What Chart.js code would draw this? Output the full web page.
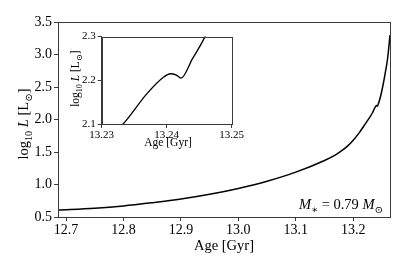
<!DOCTYPE html>
<html>
<head>
<meta charset="utf-8">
<script src="https://cdn.jsdelivr.net/npm/chart.js@4"></script>
<style>
  body { margin: 0; background: #fff; }
  #wrap { position: relative; width: 407px; height: 271px; }
  #main { position: absolute; left: 0; top: 0; }
  #inset { position: absolute; left: 55px; top: 28px; }
</style>
</head>
<body>
<div id="wrap">
  <canvas id="main" width="407" height="271"></canvas>
  <canvas id="inset" width="190" height="125"></canvas>
</div>
<script>
// luminosity track
const ages = [12.686, 12.75, 12.8, 12.85, 12.9, 12.95, 13.0, 13.05, 13.1, 13.15, 13.17, 13.18, 13.19, 13.2, 13.21, 13.22,
  13.2333, 13.237, 13.2395, 13.2406, 13.2415, 13.2422, 13.244, 13.2459, 13.25, 13.255, 13.26, 13.264];
const logL = [0.608, 0.635, 0.67, 0.72, 0.777, 0.85, 0.94, 1.05, 1.19, 1.37, 1.46, 1.52, 1.59, 1.68, 1.79, 1.92,
  2.10, 2.17, 2.207, 2.215, 2.212, 2.205, 2.25, 2.30, 2.45, 2.68, 2.95, 3.3];

const xTicks = [12.7, 12.8, 12.9, 13.0, 13.1, 13.2];
const yTicks = [0.5, 1.0, 1.5, 2.0, 2.5, 3.0, 3.5];
const insetXTicks = [13.23, 13.24, 13.25];
const insetYTicks = [2.1, 2.2, 2.3];

const serif = "'Liberation Serif', 'DejaVu Serif', serif";
const axisCol = '#3a3a3a';

const pts = ages.map((a, i) => ({x: a, y: logL[i]}));

// draw a string made of styled pieces, centred on (x, y)
function drawRich(ctx, parts, x, y, rot, size, align) {
  ctx.save();
  ctx.translate(x, y);
  ctx.rotate(rot);
  ctx.fillStyle = '#000';
  ctx.textBaseline = 'alphabetic';
  let total = 0;
  parts.forEach(p => {
    const s = size * (p.sub ? 0.7 : 1);
    ctx.font = (p.it ? 'italic ' : '') + s + 'px ' + serif;
    p.w = ctx.measureText(p.t).width;
    total += p.w;
  });
  let cx = align === 'right' ? -total : -total / 2;
  const base = size * 0.35;
  parts.forEach(p => {
    const s = size * (p.sub ? 0.7 : 1);
    ctx.font = (p.it ? 'italic ' : '') + s + 'px ' + serif;
    ctx.fillText(p.t, cx, base + (p.sub ? size * 0.25 : 0));
    cx += p.w;
  });
  ctx.restore();
}

const lumLabel = [{t: 'log'}, {t: '10', sub: true}, {t: ' '}, {t: 'L', it: true}, {t: ' [L'}, {t: '⊙', sub: true}, {t: ']'}];

function boxPlugin(extra) {
  return {
    id: 'box',
    beforeDraw(chart) {
      const {ctx, chartArea: a} = chart;
      ctx.save();
      ctx.fillStyle = '#fff';
      ctx.fillRect(a.left, a.top, a.right - a.left, a.bottom - a.top);
      ctx.restore();
    },
    afterDraw(chart) {
      const {ctx, chartArea: a} = chart;
      ctx.save();
      ctx.strokeStyle = axisCol;
      ctx.lineWidth = 1;
      ctx.strokeRect(Math.round(a.left) + 0.5, Math.round(a.top) + 0.5,
        Math.round(a.right - a.left), Math.round(a.bottom - a.top));
      ctx.restore();
      extra(chart);
    }
  };
}

function axisOpts(ticks, digits, size, width, height, isX) {
  const o = {
    type: 'linear',
    grid: {drawOnChartArea: false, drawTicks: true, tickLength: 4, color: axisCol},
    border: {display: true, color: axisCol},
    ticks: {
      color: '#000',
      font: {family: serif, size: size},
      padding: isX ? 1 : 2,
      maxRotation: 0,
      autoSkip: false,
      callback: v => v.toFixed(digits)
    },
    afterBuildTicks: s => { s.ticks = ticks.map(v => ({value: v})); }
  };
  if (isX) o.afterFit = s => { s.height = height; };
  else o.afterFit = s => { s.width = width; };
  return o;
}

new Chart(document.getElementById('main'), {
  type: 'line',
  data: {datasets: [{data: pts, borderColor: '#000', borderWidth: 1.5, pointRadius: 0,
    cubicInterpolationMode: 'monotone'}]},
  options: {
    responsive: false,
    animation: false,
    layout: {padding: {left: 0, top: 22, right: 17, bottom: 0}},
    plugins: {legend: {display: false}, tooltip: {enabled: false}},
    scales: {
      x: Object.assign(axisOpts(xTicks, 1, 14, 0, 54, true), {min: 12.686, max: 13.264}),
      y: Object.assign(axisOpts(yTicks, 1, 14, 58, 0, false), {min: 0.5, max: 3.5})
    }
  },
  plugins: [boxPlugin(chart => {
    const ctx = chart.ctx;
    drawRich(ctx, lumLabel, 23, 124, -Math.PI / 2, 14.5);
    drawRich(ctx, [{t: 'Age [Gyr]'}], 224, 245, 0, 14.5);
    drawRich(ctx, [{t: 'M', it: true}, {t: '∗', sub: true}, {t: ' = 0.79 '}, {t: 'M', it: true}, {t: '⊙', sub: true}],
      383, 204, 0, 14.5, 'right');
  })]
});

new Chart(document.getElementById('inset'), {
  type: 'line',
  data: {datasets: [{data: pts, borderColor: '#000', borderWidth: 1.3, pointRadius: 0,
    cubicInterpolationMode: 'monotone'}]},
  options: {
    responsive: false,
    animation: false,
    layout: {padding: {left: 0, top: 5.3, right: 7.3, bottom: 0}},
    plugins: {legend: {display: false}, tooltip: {enabled: false}},
    scales: {
      x: Object.assign(axisOpts(insetXTicks, 2, 11, 0, 29, true), {min: 13.23, max: 13.25}),
      y: Object.assign(axisOpts(insetYTicks, 1, 11, 46.7, 0, false), {min: 2.1, max: 2.3})
    }
  },
  plugins: [boxPlugin(chart => {
    const ctx = chart.ctx;
    drawRich(ctx, lumLabel, 20, 50.7, -Math.PI / 2, 11.5);
    drawRich(ctx, [{t: 'Age [Gyr]'}], 113, 114, 0, 11.5);
  })]
});
</script>
</body>
</html>
